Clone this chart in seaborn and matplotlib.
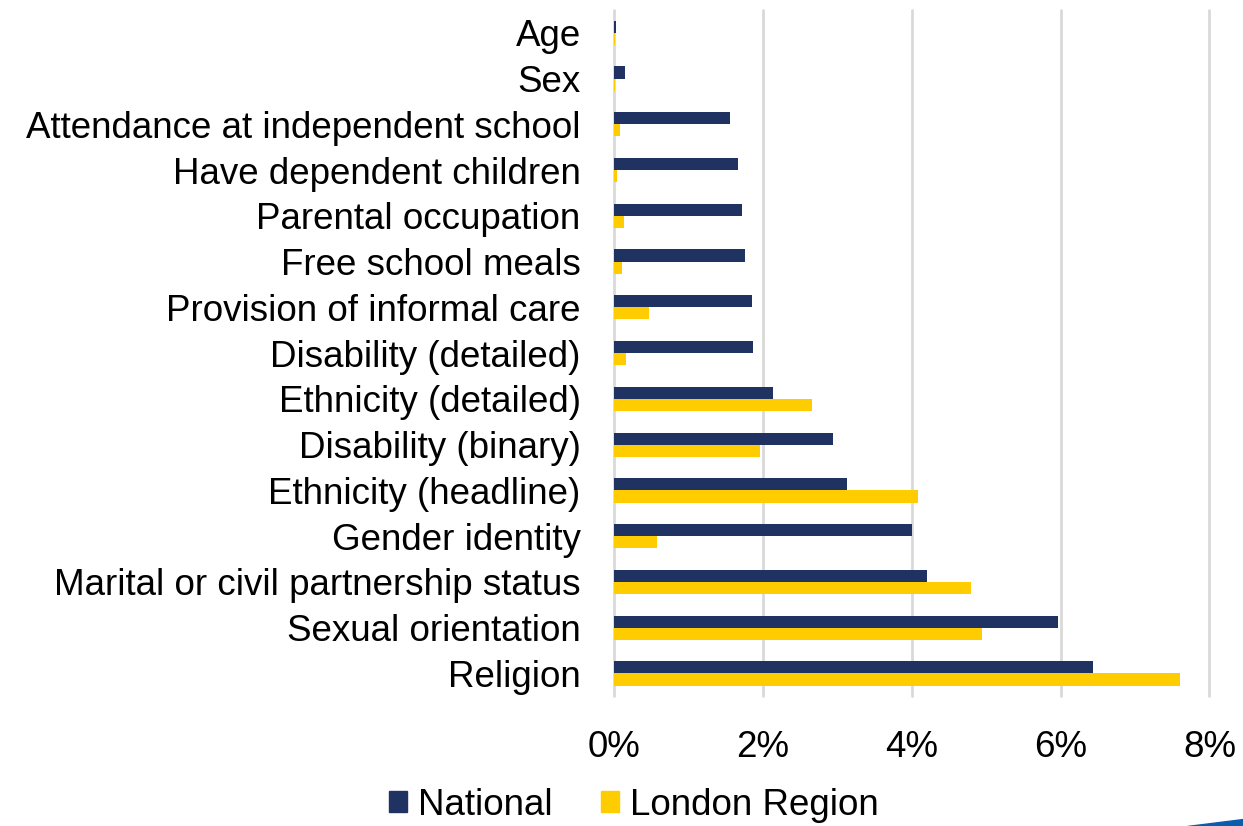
import matplotlib
matplotlib.use("Agg")
import matplotlib.pyplot as plt
import seaborn as sns
import pandas as pd
from matplotlib.ticker import FuncFormatter
from matplotlib.patches import Polygon, Patch

categories = ["Age", "Sex", "Attendance at independent school", "Have dependent children",
              "Parental occupation", "Free school meals", "Provision of informal care",
              "Disability (detailed)", "Ethnicity (detailed)", "Disability (binary)",
              "Ethnicity (headline)", "Gender identity", "Marital or civil partnership status",
              "Sexual orientation", "Religion"]
national = [0.03, 0.15, 1.56, 1.66, 1.72, 1.76, 1.85, 1.87, 2.13, 2.94, 3.13, 4.00, 4.20, 5.96, 6.43]
london = [0.01, 0.01, 0.08, 0.04, 0.13, 0.11, 0.47, 0.16, 2.66, 1.96, 4.08, 0.58, 4.80, 4.95, 7.60]
series = ["National", "London Region"]
xticks = [0, 2, 4, 6, 8]

df = pd.DataFrame({
    "category": categories * 2,
    "value": national + london,
    "series": [series[0]] * len(categories) + [series[1]] * len(categories),
})

sns.set_theme(style="white")
plt.rcParams['font.family'] = ['Liberation Sans', 'DejaVu Sans']

fig = plt.figure(figsize=(12.43, 8.26), dpi=100)
ax = fig.add_axes([0.494, 0.157, 0.479, 0.831])

sns.barplot(data=df, y="category", x="value", hue="series", order=categories,
            hue_order=series, palette=["#1F3262", "#FFCC00"], orient="h",
            width=0.53, ax=ax, legend=False, saturation=1, linewidth=0)

ax.set_xlim(0, 8)
ax.set_xticks(xticks)
ax.xaxis.set_major_formatter(FuncFormatter(lambda v, p: f"{v:.0f}%"))
ax.grid(axis="x", color="#D9D9D9", linewidth=2)
for gl in ax.get_xgridlines():
    gl.set_clip_on(False)
ax.set_axisbelow(True)
for s in ax.spines.values():
    s.set_visible(False)
ax.set_xlabel("")
ax.set_ylabel("")
ax.tick_params(axis="both", length=0, labelsize=26.5, colors="black")
ax.tick_params(axis="x", pad=24)
ax.tick_params(axis="y", pad=24)

handles = [Patch(color="#1F3262"), Patch(color="#FFCC00")]
fig.legend(handles, series, loc="center", bbox_to_anchor=(0.51, 0.025), ncol=2,
           frameon=False, fontsize=26.5, handlelength=0.5, handleheight=0.5,
           handletextpad=0.3, columnspacing=1.3, labelcolor="black")

fig.patches.append(Polygon([[0.955, 0.0], [1.0, 0.0], [1.0, 0.008]], closed=True,
                           transform=fig.transFigure, color="#0B5CAD"))

fig.savefig("out.png", dpi=100)
